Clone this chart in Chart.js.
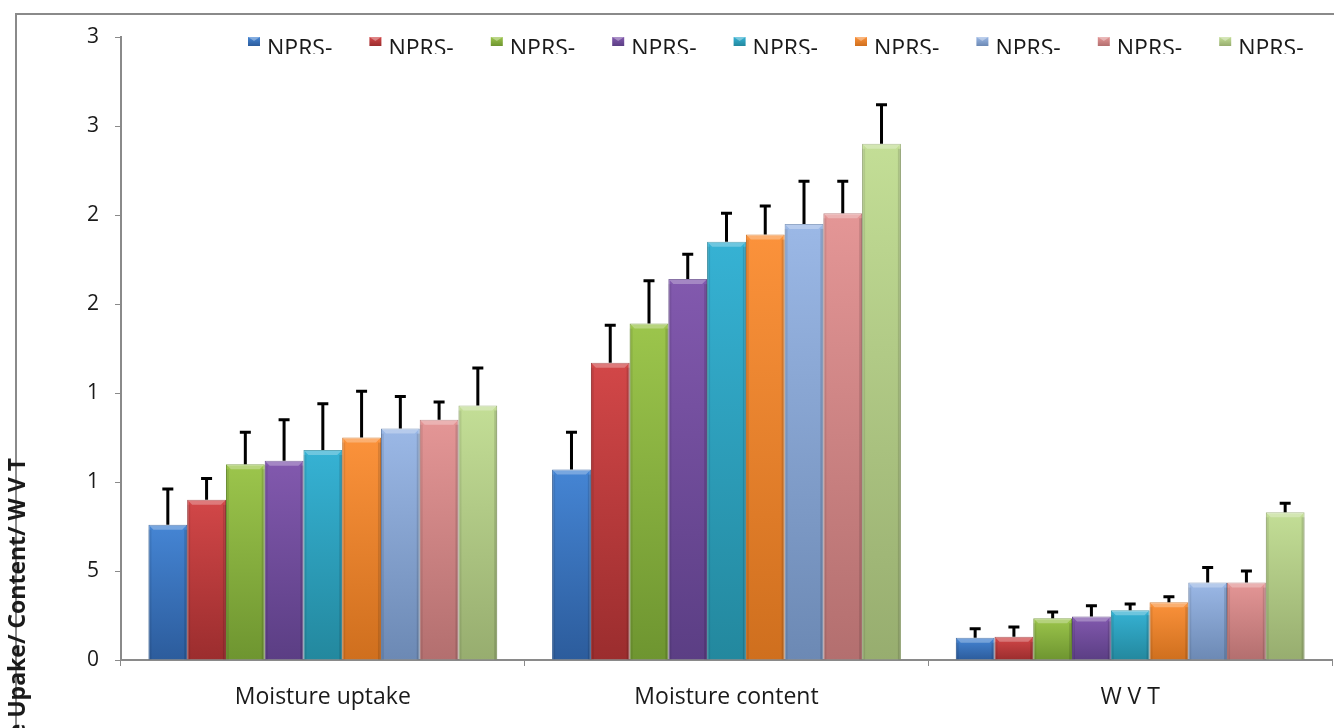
<!DOCTYPE html>
<html>
<head>
<meta charset="utf-8">
<script src="https://cdn.jsdelivr.net/npm/chart.js@4.4.1/dist/chart.umd.min.js"></script>
<style>
  html, body { margin: 0; padding: 0; background: #ffffff; overflow: hidden; }
  #wrap { position: relative; width: 1334px; height: 728px; }
</style>
</head>
<body>
<div id="wrap"><canvas id="c" width="1334" height="728"></canvas></div>
<script>
// ---- data ----
const categories = ['Moisture uptake', 'Moisture content', 'W V T'];
const seriesLabels = ['NPRS-', 'NPRS-', 'NPRS-', 'NPRS-', 'NPRS-', 'NPRS-', 'NPRS-', 'NPRS-', 'NPRS-'];
const yTickLabels = ['0', '5', '1', '1', '2', '2', '3', '3'];
const yAxisTitle = 'Moisture Upake/ Content/ W V T';

const uptake     = [7.6, 9.0, 11.0, 11.2, 11.8, 12.5, 13.0, 13.5, 14.3];
const uptakeErr  = [2.0, 1.2, 1.8, 2.3, 2.6, 2.6, 1.8, 1.0, 2.1];
const content    = [10.7, 16.7, 18.9, 21.4, 23.5, 23.9, 24.5, 25.1, 29.0];
const contentErr = [2.1, 2.1, 2.4, 1.4, 1.6, 1.6, 2.4, 1.8, 2.2];
const wvt        = [1.25, 1.3, 2.35, 2.45, 2.8, 3.25, 4.35, 4.35, 8.3];
const wvtErr     = [0.5, 0.55, 0.35, 0.6, 0.35, 0.3, 0.85, 0.65, 0.5];

// ---- styles ----
const topColors = ['#4585d4', '#d24748', '#9cc54c', '#8259ae', '#36b2d4', '#fb923b', '#9bb8e6', '#e49696', '#c3de96'];
const botColors = ['#2c5c9c', '#9b2d2e', '#6e9530', '#5b3e84', '#23889e', '#cf6f1e', '#6c89b4', '#b36f6f', '#97ad6f'];
const FONT = '"Open Sans", "Liberation Sans", sans-serif';

const datasets = seriesLabels.map((lab, i) => ({
  label: lab,
  data: [uptake[i], content[i], wvt[i]],
  errors: [uptakeErr[i], contentErr[i], wvtErr[i]],
  backgroundColor: (ctx) => {
    const chart = ctx.chart;
    const area = chart.chartArea;
    if (!area || ctx.raw === undefined) return topColors[i];
    const yTop = chart.scales.y.getPixelForValue(ctx.raw);
    const g = chart.ctx.createLinearGradient(0, yTop, 0, area.bottom);
    g.addColorStop(0, topColors[i]);
    g.addColorStop(1, botColors[i]);
    return g;
  },
  borderColor: botColors[i],
  borderWidth: 1,
  borderSkipped: 'bottom'
}));

const framePlugin = {
  id: 'frame',
  beforeDraw(chart) {
    const c = chart.ctx;
    c.save();
    c.fillStyle = '#ffffff';
    c.fillRect(0, 0, chart.width, chart.height);
    c.strokeStyle = '#8a8a8a';
    c.lineWidth = 2;
    c.strokeRect(16, 14, chart.width + 40, chart.height + 40);
    c.restore();
  },
  afterDraw(chart) {
    const c = chart.ctx;
    // y-axis title (clipped by canvas bottom as in reference)
    c.save();
    c.translate(25, 458);
    c.rotate(-Math.PI / 2);
    c.font = 'bold 23px ' + FONT;
    c.fillStyle = '#1a1a1a';
    c.textAlign = 'right';
    c.textBaseline = 'alphabetic';
    c.fillText(yAxisTitle, 0, 0);
    c.restore();
    // legend
    c.save();
    c.beginPath();
    c.rect(0, 20, chart.width, 34);
    c.clip();
    chart.data.datasets.forEach((ds, i) => {
      const x = 248 + i * 121.4;
      const g = c.createLinearGradient(0, 37, 0, 46);
      g.addColorStop(0, topColors[i]);
      g.addColorStop(1, botColors[i]);
      c.fillStyle = g;
      c.fillRect(x, 37, 12, 9);
      c.fillStyle = 'rgba(255,255,255,0.35)';
      c.beginPath();
      c.moveTo(x, 37); c.lineTo(x + 12, 37); c.lineTo(x + 6, 41); c.closePath();
      c.fill();
      c.fillStyle = '#1a1a1a';
      c.font = '23px ' + FONT;
      c.textAlign = 'left';
      c.textBaseline = 'alphabetic';
      c.fillText(ds.label, x + 19, 56);
    });
    c.restore();
  }
};

const errorBarPlugin = {
  id: 'errorBars',
  afterDatasetsDraw(chart) {
    const c = chart.ctx;
    const yScale = chart.scales.y;
    c.save();
    chart.data.datasets.forEach((ds, i) => {
      const meta = chart.getDatasetMeta(i);
      meta.data.forEach((bar, j) => {
        const w = bar.width;
        const left = bar.x - w / 2;
        const h = bar.base - bar.y;
        // bevel highlights
        c.fillStyle = 'rgba(255,255,255,0.28)';
        c.beginPath();
        c.moveTo(left, bar.y); c.lineTo(left + w, bar.y);
        c.lineTo(left + w - 5, bar.y + 5); c.lineTo(left + 5, bar.y + 5); c.closePath();
        c.fill();
        c.fillStyle = 'rgba(0,0,0,0.08)';
        c.fillRect(left, bar.y + 5, 3, Math.max(0, h - 5));
        c.fillStyle = 'rgba(0,0,0,0.12)';
        c.fillRect(left + w - 3, bar.y + 5, 3, Math.max(0, h - 5));
        // error bar
        const v = ds.data[j];
        const e = ds.errors[j];
        const yE = yScale.getPixelForValue(v + e);
        c.strokeStyle = '#000000';
        c.lineWidth = 3;
        c.beginPath();
        c.moveTo(bar.x, bar.y);
        c.lineTo(bar.x, yE);
        c.moveTo(bar.x - 5.5, yE);
        c.lineTo(bar.x + 5.5, yE);
        c.stroke();
      });
    });
    c.restore();
  }
};

new Chart(document.getElementById('c'), {
  type: 'bar',
  data: { labels: categories, datasets },
  options: {
    responsive: false,
    animation: false,
    events: [],
    layout: { padding: { left: 0, right: 2, top: 37, bottom: 0 } },
    plugins: { legend: { display: false }, tooltip: { enabled: false } },
    datasets: { bar: { categoryPercentage: 0.864, barPercentage: 1.0 } },
    scales: {
      x: {
        afterFit(scale) { scale.height = 68; },
        grid: { display: true, drawOnChartArea: false, drawTicks: true, tickLength: 6, color: '#8a8a8a', lineWidth: 1, offset: true },
        border: { display: true, color: '#8a8a8a', width: 2 },
        ticks: { color: '#1a1a1a', font: { family: FONT, size: 23 }, padding: 18 }
      },
      y: {
        min: 0, max: 35,
        afterFit(scale) { scale.width = 121; },
        grid: { display: true, drawOnChartArea: false, drawTicks: true, tickLength: 6, color: '#8a8a8a', lineWidth: 1 },
        border: { display: true, color: '#8a8a8a', width: 2 },
        ticks: {
          stepSize: 5,
          color: '#1a1a1a',
          font: { family: FONT, size: 21 },
          padding: 16,
          callback: (v, i) => yTickLabels[i]
        }
      }
    }
  },
  plugins: [framePlugin, errorBarPlugin]
});
</script>
</body>
</html>
